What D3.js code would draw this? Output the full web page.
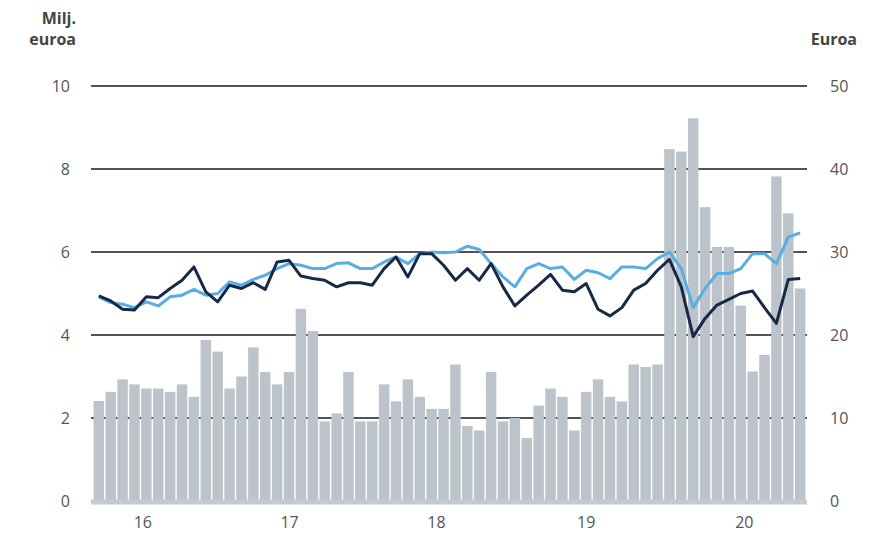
<!DOCTYPE html>
<html>
<head>
<meta charset="utf-8">
<script src="https://cdn.jsdelivr.net/npm/d3@7"></script>
<style>
  body { margin: 0; background: #fff; }
  text { font-family: "Open Sans", sans-serif; }
</style>
</head>
<body>
<div id="chart"></div>
<script>
// monthly bars, million euro (left axis)
const bars = [
  2.41, 2.63, 2.93, 2.81, 2.71, 2.71, 2.63, 2.81, 2.51, 3.88,
  3.60, 2.71, 3.00, 3.70, 3.11, 2.81, 3.11, 4.63, 4.10, 1.92,
  2.11, 3.11, 1.92, 1.92, 2.81, 2.40, 2.93, 2.51, 2.22, 2.22,
  3.29, 1.81, 1.70, 3.11, 1.92, 2.00, 1.52, 2.30, 2.71, 2.51,
  1.70, 2.63, 2.93, 2.51, 2.40, 3.29, 3.23, 3.29, 8.48, 8.42,
  9.22, 7.08, 6.12, 6.12, 4.71, 3.12, 3.52, 7.82, 6.93, 5.12
];
// dark line, euro (right axis)
const darkLine = [
  24.7, 24.1, 23.1, 23.0, 24.6, 24.5, 25.6, 26.6, 28.2, 25.2,
  24.0, 26.0, 25.6, 26.3, 25.5, 28.8, 29.0, 27.1, 26.8, 26.6,
  25.8, 26.3, 26.3, 26.0, 28.0, 29.4, 27.0, 29.8, 29.8, 28.4,
  26.6, 28.0, 26.6, 28.6, 25.8, 23.5, 24.8, 26.0, 27.3, 25.4,
  25.2, 26.2, 23.1, 22.3, 23.3, 25.4, 26.2, 27.8, 29.1, 25.8,
  19.8, 22.0, 23.6, 24.3, 25.0, 25.3, 23.3, 21.4, 26.7, 26.8
];
// light blue line, euro (right axis)
const lightLine = [
  24.6, 23.9, 23.7, 23.3, 24.0, 23.5, 24.6, 24.8, 25.5, 24.8,
  25.0, 26.4, 26.0, 26.7, 27.2, 28.0, 28.6, 28.4, 28.0, 28.0,
  28.6, 28.7, 28.0, 28.0, 28.8, 29.4, 28.6, 29.8, 30.0, 29.9,
  30.0, 30.7, 30.3, 28.6, 27.0, 25.8, 28.0, 28.6, 28.0, 28.2,
  26.7, 27.8, 27.5, 26.8, 28.2, 28.2, 28.0, 29.2, 30.0, 28.0,
  23.3, 25.6, 27.4, 27.4, 28.0, 29.8, 29.8, 28.6, 31.8, 32.3
];
const leftTicks = [0, 2, 4, 6, 8, 10];
const rightTicks = [0, 10, 20, 30, 40, 50];
// year labels, placed at (fractional) month index
const yearLabels = ["16", "17", "18", "19", "20"];
const yearPos = [3.7, 16.05, 28.4, 41.0, 54.3];

const width = 877, height = 534;
const svg = d3.select("#chart").append("svg")
  .attr("width", width)
  .attr("height", height);

const x = d3.scaleBand()
  .domain(d3.range(bars.length))
  .range([93, 806])
  .paddingInner(0.12)
  .paddingOuter(0.05);

const yL = d3.scaleLinear().domain([0, 10]).range([501, 86]);
const yR = d3.scaleLinear().domain([0, 50]).range([501, 86]);

const cx = i => x(0) + x.step() * i + x.bandwidth() / 2;

// gridlines (behind bars)
svg.append("g")
  .selectAll("line")
  .data(leftTicks.filter(d => d > 0))
  .join("line")
  .attr("x1", 91)
  .attr("x2", 807)
  .attr("y1", d => yL(d))
  .attr("y2", d => yL(d))
  .attr("stroke", "#1a1a1a")
  .attr("stroke-width", 1.4);

// bars
svg.append("g")
  .selectAll("rect")
  .data(bars)
  .join("rect")
  .attr("x", (d, i) => x(i))
  .attr("width", x.bandwidth())
  .attr("y", d => yL(d))
  .attr("height", d => yL(0) - yL(d))
  .attr("fill", "#bcc3ca");

// baseline
svg.append("line")
  .attr("x1", 91)
  .attr("x2", 807)
  .attr("y1", yL(0) + 1)
  .attr("y2", yL(0) + 1)
  .attr("stroke", "#c4cad0")
  .attr("stroke-width", 5);

// lines
const line = d3.line()
  .x((d, i) => cx(i))
  .y(d => yR(d));

svg.append("path")
  .datum(lightLine)
  .attr("d", line)
  .attr("fill", "none")
  .attr("stroke", "#5aade2")
  .attr("stroke-width", 3)
  .attr("stroke-linejoin", "round");

svg.append("path")
  .datum(darkLine)
  .attr("d", line)
  .attr("fill", "none")
  .attr("stroke", "#172a45")
  .attr("stroke-width", 3)
  .attr("stroke-linejoin", "round");

// left tick labels
svg.append("g")
  .selectAll("text")
  .data(leftTicks)
  .join("text")
  .attr("x", 70)
  .attr("y", d => yL(d))
  .attr("dy", "0.35em")
  .attr("text-anchor", "end")
  .attr("font-size", 16)
  .attr("fill", "#555")
  .text(d => d);

// right tick labels
svg.append("g")
  .selectAll("text")
  .data(rightTicks)
  .join("text")
  .attr("x", 830)
  .attr("y", d => yR(d))
  .attr("dy", "0.35em")
  .attr("text-anchor", "start")
  .attr("font-size", 16)
  .attr("fill", "#555")
  .text(d => d);

// x labels
svg.append("g")
  .selectAll("text")
  .data(yearLabels)
  .join("text")
  .attr("x", (d, i) => cx(yearPos[i]))
  .attr("y", 522)
  .attr("dy", "0.35em")
  .attr("text-anchor", "middle")
  .attr("font-size", 16)
  .attr("fill", "#555")
  .text(d => d);

// axis titles
const title = svg.append("g")
  .attr("font-family", "'Liberation Sans Narrow', 'Open Sans', sans-serif")
  .attr("font-weight", "bold")
  .attr("font-size", 16)
  .attr("fill", "#444");
title.append("text").attr("x", 76).attr("y", 24).attr("text-anchor", "end")
  .style("font-family", "inherit").text("Milj.");
title.append("text").attr("x", 76).attr("y", 45).attr("text-anchor", "end")
  .style("font-family", "inherit").text("euroa");
title.append("text").attr("x", 857).attr("y", 45).attr("text-anchor", "end")
  .style("font-family", "inherit").text("Euroa");
</script>
</body>
</html>
